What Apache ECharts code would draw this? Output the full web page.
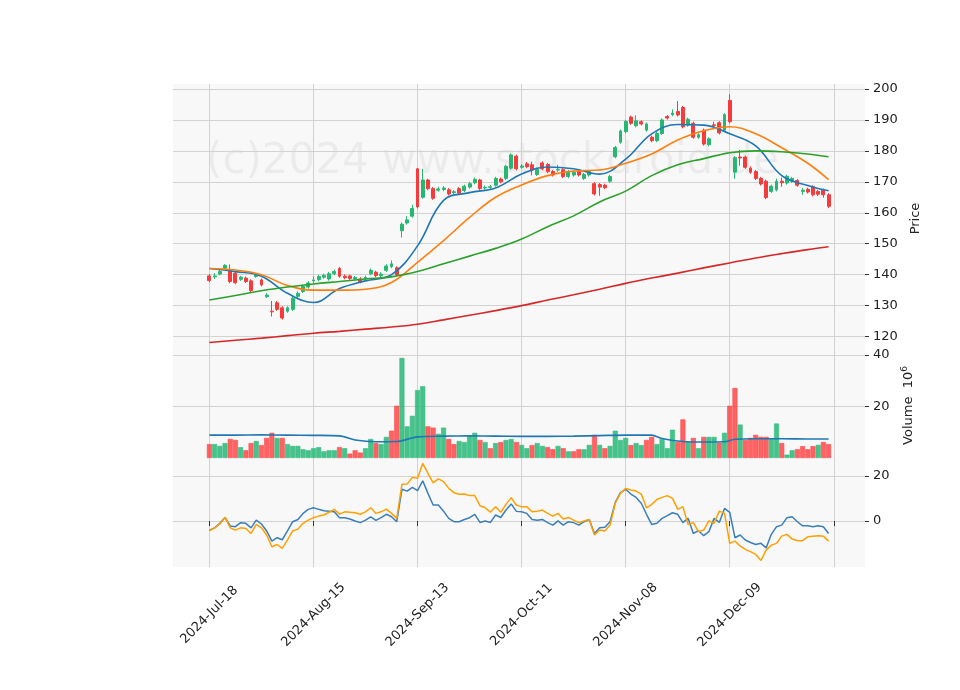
<!DOCTYPE html>
<html>
<head>
<meta charset="utf-8">
<script src="https://cdn.jsdelivr.net/npm/echarts@6/dist/echarts.min.js"></script>
<style>html,body{margin:0;background:#fff}#main{width:960px;height:690px}</style>
</head>
<body>
<div id="main"></div>
<script>
// candles, one per trading day (2024-Jul-18 .. 2025-Jan-07)
var opens = [139.6,139.3,140.2,142.1,141.5,140.5,138.5,138.9,138.0,139.4,138.3,132.9,128.2,130.9,129.3,128.2,128.8,133.0,134.6,136.0,
  138.0,138.4,139.2,138.6,140.3,142.0,139.5,139.6,138.7,138.6,138.8,140.3,140.8,139.7,141.4,142.6,142.2,154.2,156.7,158.9,
  174.2,165.0,170.6,167.8,167.3,167.5,167.4,166.5,167.8,167.2,168.3,169.7,170.6,168.0,168.2,168.9,170.9,171.1,174.4,178.3,
  174.7,175.8,175.5,172.4,176.1,175.6,173.3,173.8,173.9,171.7,172.2,173.3,171.1,172.2,169.4,169.1,168.9,170.2,178.1,182.8,
  186.2,190.9,188.1,189.4,186.7,184.4,183.3,185.6,191.1,191.7,192.7,194.0,188.3,188.9,184.4,186.7,182.0,188.4,189.1,186.7,
  196.3,173.1,178.0,178.0,174.4,173.3,171.1,170.2,166.9,167.4,170.2,169.6,170.2,170.4,166.9,167.6,168.4,166.9,167.3,165.8];
var closes = [138.1,139.6,141.0,143.0,137.8,137.4,139.2,137.8,134.9,139.9,136.7,133.4,128.0,128.8,126.0,129.3,132.4,134.0,136.2,137.3,
  138.3,139.4,139.8,140.3,141.0,139.5,139.0,138.8,139.1,137.7,139.1,141.4,139.7,140.2,142.8,143.5,140.0,156.3,157.7,161.4,
  161.9,170.6,167.8,164.7,167.7,168.0,166.1,166.8,166.4,168.6,169.4,170.8,167.8,168.2,168.4,171.1,170.0,175.0,178.7,174.2,
  175.1,174.9,173.8,174.0,174.2,173.3,172.2,174.0,171.7,173.3,173.1,172.2,172.4,173.3,166.1,168.3,168.1,171.7,181.1,186.4,
  189.5,188.9,189.7,188.7,188.7,183.3,185.6,190.0,190.6,192.2,191.6,187.8,190.2,184.4,185.2,182.2,183.9,188.2,185.8,191.7,
  189.4,177.8,177.7,174.7,173.1,171.1,169.3,164.9,168.6,170.2,169.7,171.8,171.1,168.9,167.3,166.7,165.8,166.0,165.8,162.1];
var highs = [140.2,140.5,141.5,143.4,143.3,141.0,139.6,139.4,138.5,140.6,138.8,134.0,131.5,131.5,129.8,129.8,133.0,134.6,136.8,137.9,
  139.4,139.9,140.3,140.9,141.6,142.5,140.1,140.0,139.6,139.2,139.7,142.0,141.3,140.8,143.4,144.6,142.7,156.9,158.9,162.6,
  174.5,174.2,171.0,168.3,168.4,168.6,168.0,167.4,168.3,169.1,170.0,171.4,171.0,168.8,169.0,171.6,171.4,175.5,179.2,178.8,
  175.7,176.4,176.5,174.6,176.6,176.1,173.8,175.5,174.4,173.8,173.6,173.8,172.9,173.8,169.9,169.6,169.4,172.2,181.6,186.9,
  190.0,191.4,191.5,189.9,189.2,184.9,186.1,190.5,191.6,193.4,196.1,194.5,190.7,189.4,185.7,187.2,184.4,189.4,189.6,192.2,
  198.3,178.3,180.3,178.5,175.0,173.8,171.6,170.7,169.1,171.0,171.4,172.3,171.6,170.9,168.0,168.1,168.9,167.4,167.8,166.3];
var lows = [137.6,138.6,139.8,141.6,137.2,136.9,138.0,137.3,134.4,139.0,136.2,132.5,126.5,128.3,125.5,127.7,128.3,132.5,134.1,135.5,
  137.2,137.9,138.7,138.1,139.8,139.0,138.5,138.3,138.2,137.2,138.3,139.8,139.2,139.2,140.9,142.1,139.5,152.0,156.2,158.4,
  161.4,164.5,167.3,164.2,166.8,167.0,165.6,165.9,165.9,166.7,167.8,169.2,167.3,167.5,167.6,168.4,169.5,170.6,173.9,173.7,
  174.2,174.4,172.1,171.9,173.7,172.8,171.7,173.2,171.2,171.2,171.7,171.7,170.6,171.7,165.6,165.5,167.6,169.7,177.6,182.3,
  185.7,188.4,187.6,188.2,186.2,182.8,182.8,185.1,190.1,191.2,191.1,187.3,187.8,183.9,183.9,181.7,181.5,187.2,185.3,186.2,
  188.9,171.0,175.2,174.2,172.6,170.6,168.8,164.4,166.4,166.9,168.4,169.1,169.7,168.4,165.8,166.2,165.3,165.4,164.9,161.5];

// moving averages read every 5 days
var maDays = [0,5,10,15,20,25,30,35,40,45,50,55,60,65,70,75,80,85,90,95,100,105,110,115,119];
var ma10 = [142,141,139.5,134,131,135.5,138,140,149.3,164,166.5,168,172.5,174.8,174.2,172.5,177.3,185.5,188.5,188.3,185.5,181.6,172,168.8,167.1];
var ma20 = [142,141.5,140,136.5,135,135,135.3,137.5,144,151,158.5,165,169,172,173.5,173.8,176,179,183.5,186.5,187.8,185.5,181,176,170.7];
var ma50 = [131.8,133.3,134.8,136,137,137.8,138.6,139.3,141,143.5,146,148.5,151.5,155.5,159,163.5,167,172,175.5,177.5,179.4,180,179.7,179,178.1];
var ma200 = [118.1,118.8,119.5,120.3,121.1,121.7,122.4,123.1,124,125.4,126.9,128.4,130,131.8,133.5,135.3,137.2,138.9,140.5,142.2,143.8,145.4,146.8,148.1,149];

// volume (millions), colour per bar: g = up, r = down
var volumes = [5.4,5.4,4.7,5.8,7.4,7.0,4.2,3.0,5.8,6.6,5.0,7.8,9.8,7.8,7.8,5.4,4.7,4.7,3.4,3.0,
  3.8,4.2,2.6,3.0,3.0,4.2,3.8,1.7,3.0,2.1,3.8,7.4,5.8,5.4,8.2,10.6,20.3,38.9,12.3,16.4,
  26.4,27.9,12.3,11.8,9.4,11.8,7.4,5.4,6.6,6.2,8.6,9.8,7.0,6.2,3.8,5.8,6.2,7.0,7.4,6.2,
  5.1,3.8,5.0,5.8,4.7,4.2,3.4,4.7,3.8,2.6,2.6,3.4,3.4,5.1,9.0,5.1,3.8,4.7,10.6,7.0,
  7.8,5.0,5.8,5.0,7.0,8.2,5.4,7.4,3.8,11.0,6.2,15.0,6.2,7.8,3.8,8.2,8.2,8.2,5.9,9.8,
  20.3,27.2,13.0,7.0,7.8,9.0,8.2,8.2,7.4,13.4,5.8,1.3,3.0,3.4,4.6,3.4,4.6,5.1,6.2,5.4];
var volDir = 'rgggrrgrrgrrrgrggggggggggrgrrrggrggrrgggggrrggrrggggrgrgrggr' +
             'ggrggrrgrgrrggrgrggggrggrrggggrrgrgrggrgrrgrrrrrggrggrrrrgrr';
var volMaDays = [0,5,10,15,20,25,28,32,36,40,45,50,55,60,65,70,75,80,85,87,91,95,99,101,105,110,115,119];
var volMa = [8.9,8.9,9.0,8.9,8.8,8.6,7.0,6.3,6.4,8.2,8.5,8.6,8.5,8.4,8.4,8.5,8.7,8.9,8.9,7.6,6.4,6.2,6.3,7.3,7.5,7.5,7.4,7.4];

// lower panel oscillator lines
var oscBlue = [-4,-3,-1,1.6,-2.2,-2.5,-0.7,-1,-3,0.4,-1.3,-4.4,-8.9,-7.4,-8.3,-4.4,-0.3,0.7,3.4,5.2,
  5.9,5.2,4.6,4.4,4.1,1.5,1.5,0.9,0,-0.7,0.4,1.9,0.3,1.5,3,1.9,-0.3,14.1,13.3,15,
  13.5,17.9,12.3,7.1,7.1,4.4,1.2,-0.3,-0.3,0.7,1.5,3,-0.6,0,-0.6,2.7,1.6,4.9,7.6,4.3,
  4.1,3.4,0.7,0.4,0.7,-0.7,-1.8,0.1,-1.8,-0.3,-0.7,-1.8,-0.3,0.7,-5.5,-3,-2.8,-0.3,8.3,12.6,
  14.1,12,10.5,7.9,3,-1.5,-1,1.2,2.4,3.7,3,-0.7,1.2,-5.5,-4.3,-6.5,-4.7,1.2,-0.6,5.6,
  3.9,-7.4,-6.2,-8.4,-9.5,-10.4,-9.9,-11.9,-5.9,-2.5,-1.8,1.5,1.9,-0.3,-2.1,-2.1,-2.5,-2.1,-2.5,-5.5];
var oscOrange = [-4.3,-3,-1.3,1.6,-3,-4,-3,-3.3,-5.5,-1.5,-3,-6.2,-11.4,-10.4,-12.1,-8.4,-4.4,-3.6,-1,0.4,
  1.5,2.2,2.7,3.9,5.2,3.1,4.1,3.9,3.7,3,4.1,5.9,3.4,4.1,5.3,3.4,1.2,16.3,16.4,19.4,
  19,25.6,21.2,17,18.7,17.5,14.5,12.6,11.9,12,11.3,11.3,6.8,5.9,3.9,6.4,3.9,7.4,10.4,7,
  6.4,6.4,4.1,4.4,4.9,3.4,2.2,3.4,0.9,1.6,0.4,-0.7,0,0.7,-6.2,-4,-4.4,-1.8,7.9,12.3,
  14.5,13.8,13.3,12,5.9,7.4,9.6,10.5,11.3,10.1,5.2,6.4,-1.5,-0.7,-4.7,-4,0.1,-1,4.4,3.4,
  -9.9,-8.9,-11,-12.6,-13.6,-14.8,-17.5,-12.9,-10.7,-9.9,-6.7,-5.9,-8,-8.7,-8.7,-7,-6.7,-6.5,-6.7,-8.9];

var tickLabels = ['2024-Jul-18','2024-Aug-15','2024-Sep-13','2024-Oct-11','2024-Nov-08','2024-Dec-09',''];

var PAD = 7, N = opens.length, TOTAL = N + 2 * PAD;
var cats = [];
for (var k = 0; k < TOTAL; k++) cats.push(String(k));
function padded(arr) {
  var out = [];
  for (var k = 0; k < TOTAL; k++) out.push(k >= PAD && k < PAD + N ? arr[k - PAD] : '-');
  return out;
}
function sparse(days, vals) {
  var out = [];
  for (var k = 0; k < TOTAL; k++) out.push(null);
  days.forEach(function (d, j) { out[d + PAD] = vals[j]; });
  return out;
}
var candleData = [];
for (var k = 0; k < TOTAL; k++) {
  var i = k - PAD;
  candleData.push(i >= 0 && i < N ? [opens[i], closes[i], lows[i], highs[i]] : '-');
}
var volData = [];
for (var k = 0; k < TOTAL; k++) {
  var i = k - PAD;
  if (i >= 0 && i < N) {
    volData.push({value: volumes[i], itemStyle: {
      color: volDir[i] === 'g' ? 'rgba(38,186,120,0.85)' : 'rgba(255,60,60,0.8)',
      borderColor: volDir[i] === 'g' ? '#35bb80' : '#ff4a4a', borderWidth: 0.6}});
  } else volData.push('-');
}

function isTick(idx) { return (idx - PAD) % 20 === 0 && idx >= PAD && idx <= PAD + 120; }
var FONT = 'DejaVu Sans';
var GREY = '#d2d2d2';

function xAx(gi, show) {
  return {
    type: 'category', gridIndex: gi, data: cats, boundaryGap: false,
    axisLine: {show: false},
    axisTick: {show: show, interval: function (idx) { return isTick(idx); }, length: 5, lineStyle: {color: '#333'}},
    axisLabel: {show: show, interval: function (idx) { return isTick(idx); }, rotate: 45,
      align: 'center', verticalAlign: 'middle',
      fontFamily: FONT, fontSize: 13, color: '#222', margin: 48,
      formatter: function (v, idx) { return tickLabels[(idx - PAD) / 20] || ''; }},
    splitLine: {show: true, interval: function (idx) { return isTick(idx); }, lineStyle: {color: GREY, width: 1}}
  };
}
function yAx(gi, min, max, vals, name, gap) {
  return {
    type: 'value', gridIndex: gi, position: 'right', min: min, max: max,
    name: name, nameLocation: 'middle', nameRotate: 90, nameGap: gap,
    nameTextStyle: {fontFamily: FONT, fontSize: 13, color: '#222',
      rich: {sup: {fontSize: 9, verticalAlign: 'top', fontFamily: FONT, color: '#222', padding: [0, 0, 8, 0]}}},
    axisLine: {show: false},
    axisTick: {show: true, customValues: vals, length: 4, lineStyle: {color: '#333'}},
    axisLabel: {customValues: vals, fontFamily: FONT, fontSize: 13, color: '#222', margin: 8},
    splitLine: {show: true, lineStyle: {color: GREY, width: 1}}
  };
}

var chart = echarts.init(document.getElementById('main'));
chart.setOption({
  backgroundColor: '#ffffff',
  animation: false,
  graphic: [{type: 'text', left: 206, top: 141, z: 0, silent: true,
    style: {text: '(c)2024 www.stockdroid.de', fontFamily: FONT, fontSize: 42, fill: 'rgba(0,0,0,0.05)'}}],
  grid: [
    {left: 173, width: 692, top: 84, height: 269, show: true, backgroundColor: '#f8f8f8', borderWidth: 0},
    {left: 173, width: 692, top: 353, height: 105, show: true, backgroundColor: '#f8f8f8', borderWidth: 0},
    {left: 173, width: 692, top: 458, height: 109, show: true, backgroundColor: '#f8f8f8', borderWidth: 0}
  ],
  xAxis: [xAx(0, false), xAx(1, false), xAx(2, true)],
  yAxis: [
    yAx(0, 114.7, 201.6, [120,130,140,150,160,170,180,190,200], 'Price', 38),
    yAx(1, 0, 40.8, [20, 40], 'Volume  10{sup|6}', 34),
    yAx(2, -20.4, 28, [0, 20], '', 30)
  ],
  series: [
    {type: 'candlestick', xAxisIndex: 0, yAxisIndex: 0, data: candleData, barWidth: 3.4, z: 3,
      itemStyle: {color: '#26b873', color0: '#f53b3b', borderColor: '#26b873', borderColor0: '#f53b3b', borderWidth: 1}},
    {type: 'line', xAxisIndex: 0, yAxisIndex: 0, data: sparse(maDays, ma10), connectNulls: true, smooth: 0.4,
      showSymbol: false, lineStyle: {color: '#1f77b4', width: 1.6}, z: 4},
    {type: 'line', xAxisIndex: 0, yAxisIndex: 0, data: sparse(maDays, ma20), connectNulls: true, smooth: 0.4,
      showSymbol: false, lineStyle: {color: '#ff7f0e', width: 1.6}, z: 4},
    {type: 'line', xAxisIndex: 0, yAxisIndex: 0, data: sparse(maDays, ma50), connectNulls: true, smooth: 0.4,
      showSymbol: false, lineStyle: {color: '#2ca02c', width: 1.6}, z: 4},
    {type: 'line', xAxisIndex: 0, yAxisIndex: 0, data: sparse(maDays, ma200), connectNulls: true, smooth: 0.4,
      showSymbol: false, lineStyle: {color: '#d62728', width: 1.6}, z: 4},
    {type: 'bar', xAxisIndex: 1, yAxisIndex: 1, data: volData, barWidth: 5, z: 3},
    {type: 'line', xAxisIndex: 1, yAxisIndex: 1, data: sparse(volMaDays, volMa), connectNulls: true, smooth: 0.3,
      showSymbol: false, lineStyle: {color: '#1f77b4', width: 1.6}, z: 4},
    {type: 'line', xAxisIndex: 2, yAxisIndex: 2, data: padded(oscBlue), showSymbol: false,
      lineStyle: {color: '#3a7fba', width: 1.5}, z: 4},
    {type: 'line', xAxisIndex: 2, yAxisIndex: 2, data: padded(oscOrange), showSymbol: false,
      lineStyle: {color: '#ffa000', width: 1.5}, z: 4}
  ]
});
</script>
</body>
</html>
